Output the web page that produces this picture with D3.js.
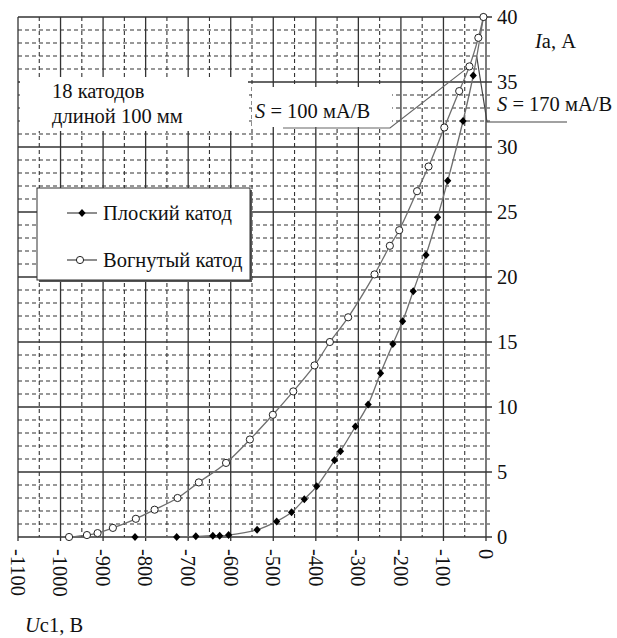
<!DOCTYPE html>
<html><head><meta charset="utf-8">
<script src="https://cdn.jsdelivr.net/npm/d3@7"></script>
<style>html,body{margin:0;padding:0;background:#fff;}</style>
</head>
<body><svg id="c" width="617" height="638"></svg>
<script>
// ---- data ----
const flatU = [-825,-727,-682,-642,-626,-605,-538,-492,-457,-427,-398,-356,-342,-307,-277,-248,-219,-196,-171,-141,-114,-90,-54,-30,-6];
const flatI = [0,0,0.05,0.1,0.1,0.15,0.55,1.2,1.9,2.9,3.9,5.9,6.6,8.5,10.2,12.6,14.85,16.6,18.9,21.7,24.6,27.4,32.0,35.5,40];
const concU = [-980,-938,-913,-877,-823,-779,-725,-675,-611,-555,-501,-453,-403,-367,-324,-262,-226,-204,-162,-135,-98,-63,-39,-18,-6];
const concI = [0,0.15,0.3,0.7,1.4,2.1,3.0,4.2,5.7,7.5,9.4,11.2,13.2,15.0,16.9,20.2,22.4,23.6,26.6,28.5,31.5,34.3,36.2,38.4,40];
const xTicks = [-1100,-1000,-900,-800,-700,-600,-500,-400,-300,-200,-100,0];
const yTicks = [0,5,10,15,20,25,30,35,40];
const seriesNames = ["Плоский катод","Вогнутый катод"];

const svg = d3.select("#c");
const x = d3.scaleLinear().domain([-1100,0]).range([18,486]);
const y = d3.scaleLinear().domain([0,40]).range([537,17]);

const grid = svg.append("g");
const xMinor = d3.range(-1050,0,100);
grid.selectAll(".vm").data(xMinor).enter().append("line")
  .attr("x1",d=>x(d)).attr("x2",d=>x(d)).attr("y1",y(40)).attr("y2",y(0))
  .attr("stroke","#333").attr("stroke-width",1.1).attr("stroke-dasharray","4,3");
const yMinor = d3.range(1,40,1).filter(v=>v%5!==0);
grid.selectAll(".hm").data(yMinor).enter().append("line")
  .attr("x1",x(-1100)).attr("x2",x(0)+4).attr("y1",d=>y(d)).attr("y2",d=>y(d))
  .attr("stroke","#333").attr("stroke-width",1.1).attr("stroke-dasharray","4,3");
grid.selectAll(".vM").data(xTicks).enter().append("line")
  .attr("x1",d=>x(d)).attr("x2",d=>x(d)).attr("y1",y(40)).attr("y2",y(0)+4)
  .attr("stroke","#333").attr("stroke-width",1.3);
grid.selectAll(".hM").data(yTicks).enter().append("line")
  .attr("x1",x(-1100)).attr("x2",x(0)+6).attr("y1",d=>y(d)).attr("y2",d=>y(d))
  .attr("stroke","#333").attr("stroke-width",1.3);

function txt(sel){ return sel.style("font-family","Liberation Serif").style("font-size","20.5px").attr("fill","#111"); }

svg.append("rect").attr("x",20).attr("y",77).attr("width",228).attr("height",54).attr("fill","#fff");
svg.append("rect").attr("x",252).attr("y",87).attr("width",140).attr("height",40).attr("fill","#fff");
txt(svg.append("text")).attr("x",52).attr("y",98).text("18 катодов");
txt(svg.append("text")).attr("x",52).attr("y",123).text("длиной 100 мм");

const t1 = txt(svg.append("text")).attr("x",255).attr("y",118);
t1.append("tspan").style("font-style","italic").text("S");
t1.append("tspan").text(" = 100 мА/В");
svg.append("path").attr("fill","none").attr("stroke","#666").attr("stroke-width",1.2)
  .attr("d",d3.line()([[283,128],[390,128],[x(-39),y(36.2)]]));
const t2 = txt(svg.append("text")).attr("x",497).attr("y",111);
t2.append("tspan").style("font-style","italic").text("S");
t2.append("tspan").text(" = 170 мА/В");
svg.append("path").attr("fill","none").attr("stroke","#444").attr("stroke-width",1.2)
  .attr("d",d3.line()([[x(-22),y(37)],[487,122],[567,122]]));

const line = d3.line().x(d=>x(d[0])).y(d=>y(d[1])).curve(d3.curveCatmullRom.alpha(0.5));
const flat = flatU.map((u,i)=>[u,flatI[i]]);
const conc = concU.map((u,i)=>[u,concI[i]]);
svg.append("path").attr("d",line(flat)).attr("fill","none").attr("stroke","#6e6e6e").attr("stroke-width",1.3);
svg.append("path").attr("d",line(conc)).attr("fill","none").attr("stroke","#6e6e6e").attr("stroke-width",1.3);
const diamondPath = "M0,-4L3.6,0L0,4L-3.6,0Z";
svg.selectAll(".fd").data(flat).enter().append("path").attr("d",diamondPath)
  .attr("transform",d=>`translate(${x(d[0])},${y(d[1])})`).attr("fill","#000");
svg.selectAll(".oc").data(conc).enter().append("circle")
  .attr("cx",d=>x(d[0])).attr("cy",d=>y(d[1])).attr("r",3.6)
  .attr("fill","#fff").attr("stroke","#222").attr("stroke-width",1);

txt(svg.selectAll(".yl").data(yTicks).enter().append("text"))
  .attr("x",497).attr("y",d=>y(d)).attr("dy","0.35em").text(d=>d);
txt(svg.selectAll(".xl").data(xTicks).enter().append("text"))
  .attr("transform",d=>`translate(${x(d)},549) rotate(90)`)
  .attr("dy","0.35em").text(d=>d);

const ya = txt(svg.append("text")).attr("x",535).attr("y",48);
ya.append("tspan").style("font-style","italic").text("I");
ya.append("tspan").text("a, А");
const xa = txt(svg.append("text")).attr("x",25).attr("y",632);
xa.append("tspan").style("font-style","italic").text("U");
xa.append("tspan").text("c1, В");

const lg = svg.append("g");
lg.append("rect").attr("x",39).attr("y",190).attr("width",213).attr("height",92).attr("fill","#555");
lg.append("rect").attr("x",37).attr("y",188).attr("width",213).attr("height",92).attr("fill","#fff").attr("stroke","#333").attr("stroke-width",1);
const rows = [213,260];
rows.forEach((ry,i)=>{
  lg.append("line").attr("x1",67).attr("x2",97).attr("y1",ry).attr("y2",ry).attr("stroke","#444").attr("stroke-width",1.2);
  if(i===0){
    lg.append("path").attr("d",diamondPath).attr("transform",`translate(82,${ry})`).attr("fill","#000");
  } else {
    lg.append("circle").attr("cx",80).attr("cy",ry).attr("r",3.6).attr("fill","#fff").attr("stroke","#222");
  }
  txt(lg.append("text")).attr("x",103).attr("y",ry+7).text(seriesNames[i]);
});
</script></body></html>
